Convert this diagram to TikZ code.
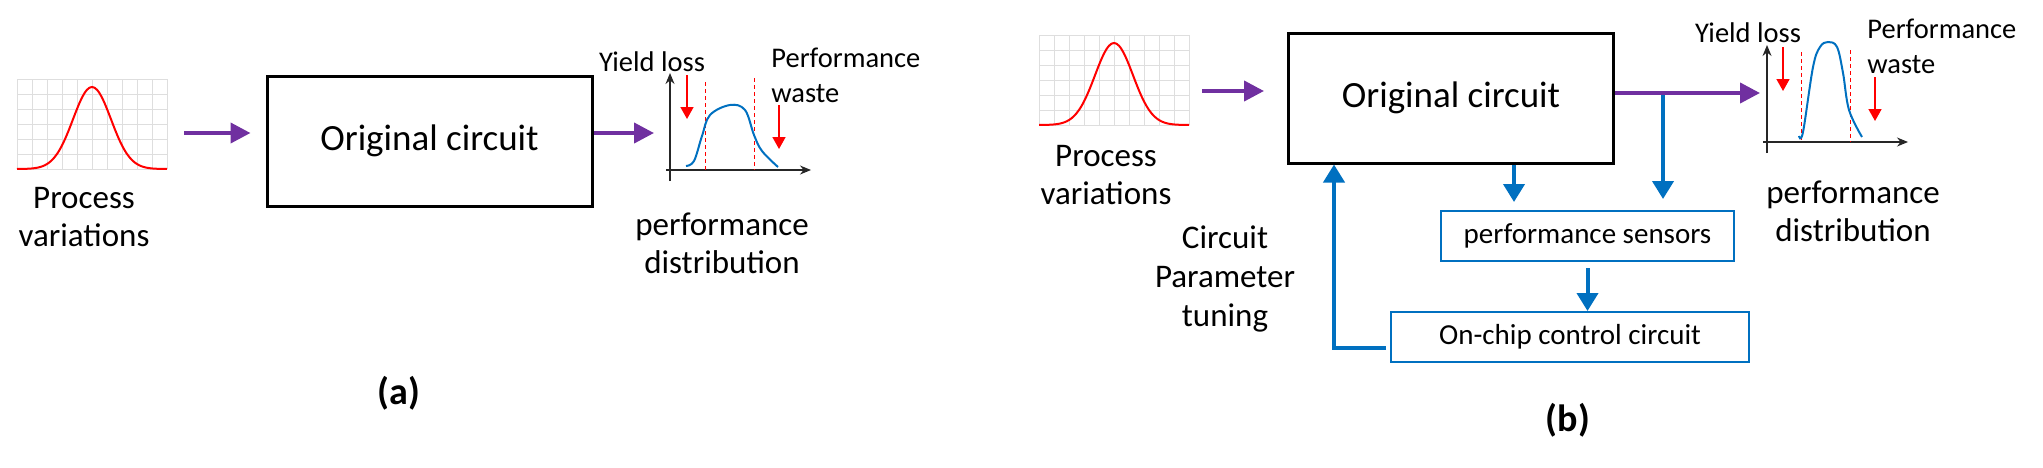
\documentclass[tikz,border=0pt]{standalone}
\usepackage{fontspec}
\setmainfont{Carlito}
\usetikzlibrary{arrows.meta, positioning}
\definecolor{vpurple}{RGB}{112,48,160}
\definecolor{fblue}{RGB}{0,112,192}
\tikzstyle{circuit} = [rectangle, draw=black, line width=1.5pt, minimum width=162.5pt, minimum height=65pt, font=\fontsize{18.5}{22}\selectfont]
\tikzstyle{block} = [rectangle, draw=fblue, line width=1pt, minimum height=25pt, font=\fontsize{14.5}{17}\selectfont]
\tikzstyle{txt} = [inner sep=0pt, align=center, font=\fontsize{16.5}{19}\selectfont]
\tikzstyle{smalltxt} = [inner sep=0pt, align=left, font=\fontsize{14.25}{17.5}\selectfont]
\tikzstyle{purplearrow} = [vpurple, line width=2pt, -{Triangle[length=10pt,width=10pt]}]
\tikzstyle{bluearrow} = [fblue, line width=2pt, -{Triangle[length=9pt,width=10.5pt]}]
\tikzstyle{redarrow} = [red, line width=0.8pt, -{Triangle[length=6pt,width=6.5pt]}]
\tikzstyle{axis} = [black!85, line width=0.6pt, -{Stealth[length=5.5pt,width=4.5pt]}]
\tikzstyle{limit} = [red, line width=0.5pt, dash pattern=on 2pt off 1.5pt]
\tikzstyle{gridline} = [black!13, line width=0.5pt]
\tikzstyle{gauss} = [red, line width=1pt]
\tikzstyle{dist} = [fblue, line width=1pt]

\begin{document}
\begin{tikzpicture}[x=0.5pt, y=-0.5pt]
\useasboundingbox (0,0) rectangle (2043,467);

% ---------- (a) ----------
\begin{scope}[shift={(17,79)}]
  \foreach \i in {0,15,...,150} \draw[gridline] (\i,0) -- (\i,90);
  \foreach \j in {0,15,...,90} \draw[gridline] (0,\j) -- (150,\j);
  \draw[gauss] plot[domain=-75:75, samples=61, smooth] ({75+\x}, {90-82*exp(-\x*\x/722)});
\end{scope}
\node (procA) [txt] at (84,217) {Process\\variations};

\node (origA) [circuit] at (429.5,141) {Original circuit};
\coordinate (inA) at (184,133);
\coordinate (outA) at (654,133);
\draw [purplearrow, shorten >=7.5pt] (inA) -- (inA -| origA.west);
\draw [purplearrow] (origA.east |- outA) -- (outA);

\draw[axis] (670,181) -- (670,73);
\draw[axis] (666,170) -- (811,170);
\draw[limit] (705,82) -- (705,170);
\draw[limit] (754,78) -- (754,170);
\draw[dist] plot[smooth, tension=0.6] coordinates {(686,166) (694,161) (702,136) (710,115) (730,105) (745,110) (754,135) (762,151) (778,167)};
\draw[redarrow] (687,75) -- (687,119);
\draw[redarrow] (779,105) -- (779,149);
\node (yieldA) [smalltxt] at (652,62) {Yield loss};
\node (wasteA) [smalltxt, anchor=west] at (771,75.5) {Performance\\waste};
\node (perfA) [txt] at (722,243) {performance\\distribution};
\node (capA) [txt, font=\fontsize{19}{22}\selectfont\bfseries] at (399,393) {(a)};

% ---------- (b) ----------
\begin{scope}[shift={(1039,35)}]
  \foreach \i in {0,15,...,150} \draw[gridline] (\i,0) -- (\i,90);
  \foreach \j in {0,15,...,90} \draw[gridline] (0,\j) -- (150,\j);
  \draw[gauss] plot[domain=-75:75, samples=61, smooth] ({75+\x}, {90-82*exp(-\x*\x/722)});
\end{scope}
\node (procB) [txt] at (1106,175.5) {Process\\variations};

\node (origB) [circuit] at (1451,98) {Original circuit};
\node (sensors) [block, minimum width=146.5pt] at (1587.5,236) {performance sensors};
\node (control) [block, minimum width=179pt] at (1570,337) {On-chip control circuit};
\node (tuning) [txt, font=\fontsize{16.5}{19.5}\selectfont] at (1225,279) {Circuit\\Parameter\\tuning};

\coordinate (inB) at (1202,91);
\coordinate (outB) at (1760,93);
\coordinate (tap) at (1663,93);
\draw [purplearrow, shorten >=11.5pt] (inB) -- (inB -| origB.west);
\draw [bluearrow, shorten >=5.5pt] (tap) -- (tap |- sensors.north);
\draw [purplearrow] (origB.east |- outB) -- (outB);
\draw [bluearrow, shorten >=4pt] ([xshift=31.5pt]origB.south) -- ([xshift=31.5pt]origB.south |- sensors.north);
\draw [bluearrow, shorten <=3pt] (sensors.south) -- (sensors.south |- control.north);
\draw [bluearrow, shorten <=2pt] ([yshift=-5.5pt]control.west) -| ([xshift=-58.5pt]origB.south);

\draw[axis] (1767,153) -- (1767,45);
\draw[axis] (1763,142) -- (1908,142);
\draw[limit] (1801,52) -- (1801,142);
\draw[limit] (1850,50) -- (1850,142);
\draw[dist] plot[smooth, tension=0.6] coordinates {(1799,136) (1803,132) (1813,67) (1820,47) (1828,42) (1837,47) (1843,73) (1849,110) (1862,137)};
\draw[redarrow] (1783,47) -- (1783,91);
\draw[redarrow] (1875,77) -- (1875,121);
\node (yieldB) [smalltxt] at (1748,33) {Yield loss};
\node (wasteB) [smalltxt, anchor=west] at (1867,46.5) {Performance\\waste};
\node (perfB) [txt] at (1853,211.5) {performance\\distribution};
\node (capB) [txt, font=\fontsize{19}{22}\selectfont\bfseries] at (1568,420) {(b)};
\end{tikzpicture}
\end{document}
